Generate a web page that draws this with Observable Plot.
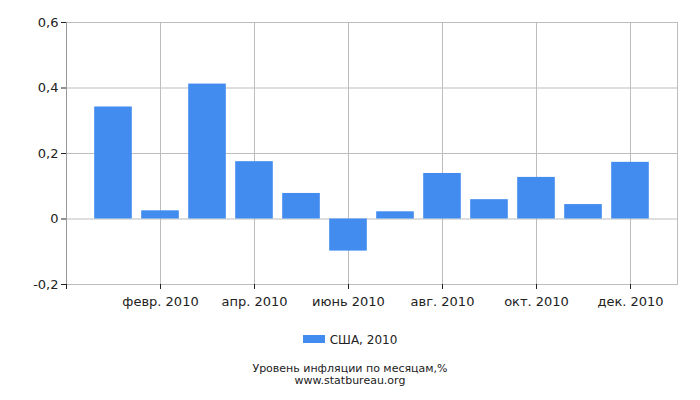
<!DOCTYPE html>
<html>
<head>
<meta charset="utf-8">
<script src="https://cdn.jsdelivr.net/npm/d3@7"></script>
<script src="https://cdn.jsdelivr.net/npm/@observablehq/plot@0.6"></script>
<style>
  body { margin: 0; background: #fff; font-family: "DejaVu Sans", sans-serif; }
  #wrap { position: relative; width: 700px; height: 400px; }
  #legend { position: absolute; left: 0; top: 333px; width: 700px; text-align: center; font-size: 12px; color: #222; }
  #legend .sw { display: inline-block; width: 22px; height: 8px; background: #428cef; margin-right: 5px; vertical-align: 1px; }
  #caption { position: absolute; left: 0; top: 363px; width: 700px; text-align: center; font-size: 11px; line-height: 12px; color: #222; }
</style>
</head>
<body>
<div id="wrap">
  <div id="chart"></div>
  <div id="legend"><span class="sw"></span>США, 2010</div>
  <div id="caption">Уровень инфляции по месяцам,%<br>www.statbureau.org</div>
</div>
<script>
const monthLabels = ["янв. 2010", "февр. 2010", "март 2010", "апр. 2010", "май 2010", "июнь 2010",
                     "июль 2010", "авг. 2010", "сент. 2010", "окт. 2010", "нояб. 2010", "дек. 2010"];
const monthIndex = [1, 2, 3, 4, 5, 6, 7, 8, 9, 10, 11, 12];
const inflation = [0.342, 0.025, 0.412, 0.175, 0.078, -0.098, 0.022, 0.139, 0.059, 0.127, 0.044, 0.173];
const yTicks = [-0.2, 0, 0.2, 0.4, 0.6];
const xTicks = [0, 2, 4, 6, 8, 10, 12];

const data = monthIndex.map((m, k) => ({m, v: inflation[k]}));
const fmtY = d => String(d).replace(".", ",");

const chart = Plot.plot({
  width: 700,
  height: 320,
  marginTop: 22,
  marginLeft: 66,
  marginRight: 23,
  marginBottom: 36,
  style: {fontFamily: "DejaVu Sans, sans-serif", fontSize: "13px", color: "#222", background: "#fff"},
  x: {domain: [0, 13], axis: null, label: null},
  y: {domain: [-0.2, 0.6], axis: null, label: null},
  marks: [
    Plot.gridX(xTicks.filter(d => d > 0), {stroke: "#bdbdbd", strokeOpacity: 1}),
    Plot.gridY(yTicks, {stroke: "#bdbdbd", strokeOpacity: 1}),
    Plot.rectY(data, {x1: d => d.m - 0.4, x2: d => d.m + 0.4, y: "v", fill: "#428cef"}),
    Plot.frame({stroke: "#bdbdbd"}),
    Plot.ruleX([0], {stroke: "#999"}),
    Plot.axisY(yTicks, {tickSize: 5, tickPadding: 3, tickFormat: fmtY, stroke: "#222", fontSize: 13, label: null}),
    Plot.axisX(xTicks, {tickSize: 5, tickPadding: 7, tickFormat: d => d === 0 ? "" : monthLabels[d - 1], stroke: "#222", fontSize: 13, label: null})
  ]
});
document.getElementById("chart").appendChild(chart);
</script>
</body>
</html>
